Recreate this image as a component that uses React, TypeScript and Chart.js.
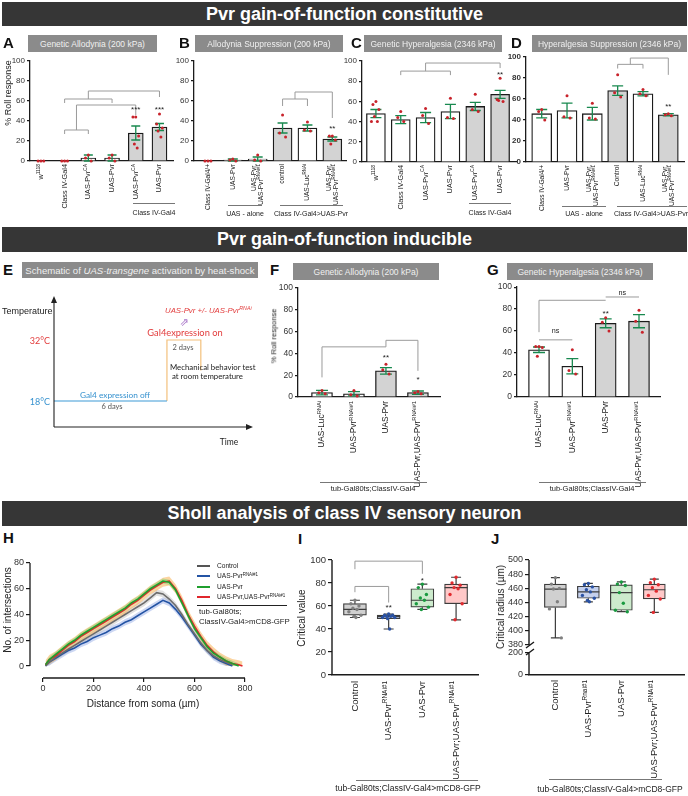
import React, { useEffect, useRef } from "react";
import { Chart, registerables } from "chart.js";

Chart.register(...registerables);

const FONT = '"Liberation Sans", Arial, Helvetica, sans-serif';
const SOFT = 'Lato, "Open Sans", "Liberation Sans", sans-serif';
Chart.defaults.font.family = FONT;
Chart.defaults.color = "#222";

// ================= DATA =================
// Panel A – Genetic Allodynia (200 kPa)
const labelsA = ["w^{1118}", "Class IV-Gal4", "UAS-Pvr^{CA}", "UAS-Pvr", "UAS-Pvr^{CA}", "UAS-Pvr"];
const meansA = [0, 0, 3, 3, 28, 34];
const semA = [0, 0, 3, 3, 7, 3.5];
const pointsA = [[0, 0, 0], [0, 0, 0], [6, 3, 0], [6, 3, 0], [44, 44, 25, 17, 13], [47, 37, 33, 30, 24]];
const sigA = [{ i: 4, t: "***", v: 53 }, { i: 5, t: "***", v: 53 }];
const bracketsA = [
  [[1, 27], [1, 31], [2, 31], [2, 27]],
  [[1.5, 31], [1.5, 56], [4, 56], [4, 46]],
  [[1, 58], [1, 62], [3, 62], [3, 58]],
  [[2, 62], [2, 70], [5, 70], [5, 64]],
];

// Panel B – Allodynia Suppression (200 kPa)
const labelsB = ["Class IV-Gal4/+", "UAS-Pvr", "UAS-Pvr,\nUAS-Pvr^{RNAi#1}", "control", "UAS-Luc^{RNAi}", "UAS-Pvr,\nUAS-Pvr^{RNAi#1}"];
const meansB = [0, 1, 2, 33, 33, 22];
const semB = [0, 1, 2, 5, 3, 2];
const pointsB = [[0, 0, 0], [2, 1, 0], [6, 1, 0], [46, 28, 24], [39, 31, 30], [25, 25, 21, 17]];
const sigB = [{ i: 5, t: "**", v: 34 }];
const bracketsB = [
  [[3, 55], [3, 62], [4, 62], [4, 55]],
  [[3.5, 62], [3.5, 69], [5, 69], [5, 43]],
];

// Panel C – Genetic Hyperalgesia (2346 kPa)
const labelsC = ["w^{1118}", "Class IV-Gal4", "UAS-Pvr^{CA}", "UAS-Pvr", "UAS-Pvr^{CA}", "UAS-Pvr"];
const meansC = [48, 42, 44, 50, 55, 67];
const semC = [4, 4, 5, 7, 4, 4];
const pointsC = [[60, 57, 52, 45, 40, 40], [50, 44, 40], [53, 46, 38], [63, 44, 43], [67, 52, 50], [83, 62, 60, 61]];
const sigC = [{ i: 5, t: "**", v: 89 }];
const bracketsC = [
  [[1, 86], [1, 90], [3, 90], [3, 86]],
  [[2, 90], [2, 98], [5, 98], [5, 93]],
];

// Panel D – Hyperalgesia Suppression (2346 kPa)
const labelsD = ["Class IV-Gal4/+", "UAS-Pvr", "UAS-Pvr,\nUAS-Pvr^{RNAi#1}", "Control", "UAS-Luc^{RNAi}", "UAS-Pvr,\nUAS-Pvr^{RNAi#1}"];
const meansD = [46, 49, 46, 68, 65, 45];
const semD = [4, 7, 6, 4.5, 2, 1];
const pointsD = [[50, 48, 40], [63, 43, 42], [56, 42, 41], [83, 66, 62], [69, 65, 63], [46, 45, 44]];
const sigD = [{ i: 5, t: "**", v: 55 }];
const bracketsD = [
  [[3, 89], [3, 93], [4, 93], [4, 89]],
  [[3.5, 93], [3.5, 99], [5, 99], [5, 83]],
];

// Panel E – schematic (temperature vs. time, not to scale)
const offDays = [0, 6];
const offTemp = [18, 18];
const onDays = [6, 6, 7.8, 7.8];
const onTemp = [18, 32, 32, 25];

// Panel F – inducible allodynia
const labelsF = ["UAS-Luc^{RNAi}", "UAS-Pvr^{RNAi#1}", "UAS-Pvr", "UAS-Pvr,UAS-Pvr^{RNAi#1}"];
const meansF = [4, 3, 24, 4];
const semF = [2, 2, 3, 1.5];
const pointsF = [[6, 4, 3], [6, 2, 1], [30, 25, 21], [5, 4, 3]];
const sigF = [{ i: 2, t: "**", v: 38 }, { i: 3, t: "*", v: 18 }];
const bracketsF = [[[0, 18], [0, 46], [2, 46], [2, 52], [3, 52], [3, 24]]];

// Panel G – inducible hyperalgesia
const labelsG = ["UAS-Luc^{RNAi}", "UAS-Pvr^{RNAi#1}", "UAS-Pvr", "UAS-Pvr,UAS-Pvr^{RNAi#1}"];
const meansG = [43, 28, 67, 69];
const semG = [2.5, 7, 4, 6];
const pointsG = [[46, 46, 45, 37], [43, 24, 21], [72, 68, 60], [79, 69, 59]];
const sigG = [{ i: 2, t: "**", v: 78 }, { i: 2.5, t: "ns", v: 95 }, { i: 0.5, t: "ns", v: 60 }];
const bracketsG = [
  [[0, 59], [0, 88], [2, 88]],
  [[2, 91], [3, 91]],
  [[0, 52], [1, 52]],
];

// Panel H – Sholl analysis
const distH = [10, 25, 50, 75, 100, 125, 150, 175, 200, 225, 250, 275, 300, 325, 350, 375, 400, 425, 450, 475, 500, 525, 550, 575, 600, 625, 650, 675, 700, 725, 750, 775, 790];
const controlH = [0, 3, 7, 10, 13, 16, 19, 22, 25, 28, 31, 34, 37, 40, 43, 46, 49, 53, 57, 56, 52, 47, 40, 32, 25, 18, 12, 8, 5, 3, 1, null, null];
const rnaiH = [0, 3, 6, 9, 12, 14, 17, 19, 22, 24, 26, 29, 31, 34, 36, 39, 42, 45, 48, 51, 49, 44, 38, 31, 24, 17, 12, 7, 4, 2, 0, null, null];
const pvrH = [1, 5, 9, 13, 17, 20, 24, 27, 30, 33, 36, 39, 42, 45, 49, 52, 56, 60, 63, 66, 65, 59, 49, 39, 29, 22, 15, 10, 7, 4, 2, 0, null];
const pvrRnaiH = [1, 5, 8, 12, 16, 19, 23, 26, 29, 32, 35, 38, 41, 44, 48, 51, 55, 59, 62, 65, 66, 60, 51, 40, 31, 23, 16, 11, 7, 4, 2, 1, 0];
const semControlH = 2.5;
const semRnaiH = 2.5;
const semPvrH = 2;
const semPvrRnaiH = 3.5;

// Panel I – Critical value (box plots)
const labelsI = ["Control", "UAS-Pvr^{RNAi#1}", "UAS-Pvr", "UAS-Pvr;UAS-Pvr^{RNAi#1}"];
const minI = [50, 40, 57, 48];
const q1I = [52, 49, 59, 62];
const medI = [57, 51, 65, 76];
const q3I = [62, 52, 75, 79];
const maxI = [65, 53, 79, 85];
const pointsI = [[65, 62, 60, 58, 57, 55, 52, 51, 50], [53, 52, 52, 51, 51, 50, 50, 49, 40], [79, 76, 70, 67, 65, 62, 59, 57], [85, 80, 78, 76, 75, 70, 62, 48]];
const sigI = [{ i: 1, t: "**", v: 60 }, { i: 2, t: "*", v: 84 }];
const bracketsI = [
  [[0, 72], [0, 77], [1, 77], [1, 63]],
  [[0, 92], [0, 99], [2, 99], [2, 88]],
];

// Panel J – Critical radius (box plots, broken axis)
const labelsJ = ["Control", "UAS-Pvr^{Rnai#1}", "UAS-Pvr", "UAS-Pvr;UAS-Pvr^{RNAi#1}"];
const minJ = [390, 441, 427, 426];
const q1J = [433, 446, 429, 445];
const medJ = [459, 455, 454, 458];
const q3J = [466, 463, 465, 466];
const maxJ = [475, 467, 469, 473];
const pointsJ = [[475, 466, 460, 459, 441, 431, 390], [467, 465, 462, 458, 455, 450, 446, 443, 441], [469, 466, 464, 454, 439, 429, 427], [473, 468, 465, 461, 456, 450, 445, 426]];

// ================= STYLE =================
const W = "#ffffff";
const GY = "#d3d3d3";
const INK = "#1b1b1b";
const DOT = "#c8232b";
const ERR = "#18894f";
const BRK = "#9b9b9b";
const JIT = [0, -1, 1, -0.5, 0.5, -1.5, 1.5, -0.25, 0.25];
const BOX_FILL = ["#d0d0d0", "#c5d1ee", "#cdebcd", "#ffc8c8"];
const BOX_DOT = ["#808080", "#2a52a3", "#1a9a40", "#e22a2f"];

// ================= HELPERS =================
function parseRich(s: string) {
  const out: { t: string; sup: boolean }[] = [];
  const re = /\^\{([^}]*)\}/g;
  let last = 0;
  let m: RegExpExecArray | null;
  while ((m = re.exec(s))) {
    if (m.index > last) out.push({ t: s.slice(last, m.index), sup: false });
    out.push({ t: m[1], sup: true });
    last = re.lastIndex;
  }
  if (last < s.length) out.push({ t: s.slice(last), sup: false });
  return out;
}

function drawRich(ctx: any, s: string, x: number, y: number, size: number, align: string, color: string, weight = "normal") {
  const parts = parseRich(s);
  const sup = size * 0.68;
  const f = (sz: number) => `${weight} ${sz}px ${FONT}`;
  const ws = parts.map((p) => {
    ctx.font = f(p.sup ? sup : size);
    return ctx.measureText(p.t).width;
  });
  const total = ws.reduce((a, b) => a + b, 0);
  let cx = align === "right" ? x - total : align === "center" ? x - total / 2 : x;
  ctx.fillStyle = color;
  ctx.textAlign = "left";
  ctx.textBaseline = "middle";
  parts.forEach((p, i) => {
    ctx.font = f(p.sup ? sup : size);
    ctx.fillText(p.t, cx, p.sup ? y - size * 0.36 : y);
    cx += ws[i];
  });
}

function drawXLabels(chart: any, labels: string[], size: number, gap: number, lineH: number) {
  const { ctx } = chart;
  const xs = chart.scales.x;
  const y0 = chart.chartArea.bottom + gap;
  labels.forEach((lab, i) => {
    const x = xs.getPixelForValue(i);
    const lines = lab.split("\n");
    ctx.save();
    ctx.translate(x, y0);
    ctx.rotate(-Math.PI / 2);
    lines.forEach((ln, j) => drawRich(ctx, ln, 0, (j - (lines.length - 1) / 2) * lineH, size, "right", "#222"));
    ctx.restore();
  });
}

function drawBrackets(chart: any, brackets: number[][][], yId = "y") {
  const { ctx } = chart;
  const xs = chart.scales.x;
  const ys = chart.scales[yId];
  ctx.save();
  ctx.strokeStyle = BRK;
  ctx.lineWidth = 1;
  brackets.forEach((b) => {
    ctx.beginPath();
    b.forEach(([x, v], k) => {
      const px = xs.getPixelForValue(x);
      const py = ys.getPixelForValue(v);
      if (k) ctx.lineTo(px, py);
      else ctx.moveTo(px, py);
    });
    ctx.stroke();
  });
  ctx.restore();
}

function drawSigs(chart: any, sigs: { i: number; t: string; v: number }[], size: number, yId = "y") {
  const { ctx } = chart;
  const xs = chart.scales.x;
  const ys = chart.scales[yId];
  ctx.save();
  sigs.forEach((s) => {
    const star = s.t.includes("*");
    drawRich(ctx, s.t, xs.getPixelForValue(s.i), ys.getPixelForValue(s.v) + (star ? size * 0.28 : 0), star ? size : size * 0.9, "center", "#222");
  });
  ctx.restore();
}

const base = (pad: any) => ({
  responsive: false,
  maintainAspectRatio: false,
  animation: false,
  devicePixelRatio: 1,
  events: [],
  layout: { padding: pad },
  plugins: { legend: { display: false }, tooltip: { enabled: false } },
});

function barConfig(p: any) {
  const g = p.g;
  const pts: any[] = [];
  p.points.forEach((arr: number[], i: number) => arr.forEach((v, k) => pts.push({ x: i + JIT[k % JIT.length] * p.jit, y: v })));
  return {
    type: "bar",
    data: {
      datasets: [
        { type: "bar", data: p.means.map((m: number, i: number) => ({ x: i, y: m })), backgroundColor: p.fills, borderColor: INK, borderWidth: 1.3, barThickness: p.bar, order: 1 },
        { type: "scatter", data: pts, pointRadius: 1.5, pointBackgroundColor: DOT, pointBorderWidth: 0, order: 0, clip: false },
      ],
    },
    options: {
      ...base({ top: g.y100 - g.T, right: g.L + g.W - g.xEnd, left: 0, bottom: 0 }),
      scales: {
        x: { type: "linear", min: p.xMin, max: p.xMax, offset: false, ticks: { display: false }, grid: { display: false }, border: { display: true, color: INK, width: 1.3 }, afterFit: (s: any) => { s.height = g.B - g.y0; } },
        y: {
          type: "linear", min: 0, max: 100,
          ticks: { stepSize: 20, autoSkip: false, font: { size: p.tick, weight: p.tickBold ? "bold" : "normal" }, color: "#333", padding: 2 },
          grid: { drawOnChartArea: false, drawTicks: true, tickLength: 3, color: INK, lineWidth: 1.2 },
          border: { display: true, color: INK, width: 1.3 },
          afterFit: (s: any) => { s.width = g.axisX - g.L; },
        },
      },
    },
    plugins: [
      {
        id: "barExtras",
        afterDatasetDraw(chart: any, args: any) {
          if (args.index !== 0) return;
          const { ctx } = chart;
          const xs = chart.scales.x;
          const ys = chart.scales.y;
          ctx.save();
          ctx.strokeStyle = ERR;
          ctx.lineWidth = 1.3;
          p.means.forEach((m: number, i: number) => {
            const s = p.sems[i];
            if (!s) return;
            const x = xs.getPixelForValue(i);
            const y1 = ys.getPixelForValue(m + s);
            const y2 = ys.getPixelForValue(Math.max(0, m - s));
            const c = p.cap / 2;
            ctx.beginPath();
            ctx.moveTo(x, y1); ctx.lineTo(x, y2);
            ctx.moveTo(x - c, y1); ctx.lineTo(x + c, y1);
            ctx.moveTo(x - c, y2); ctx.lineTo(x + c, y2);
            ctx.stroke();
          });
          ctx.restore();
        },
        afterDraw(chart: any) {
          drawBrackets(chart, p.brackets);
          drawSigs(chart, p.sigs, p.sigSize);
          drawXLabels(chart, p.labels, p.labelSize, p.labelGap, p.labelSize * 1.05);
        },
      },
    ],
  };
}

function boxConfig(p: any) {
  const g = p.g;
  const pts: any[] = [];
  const cols: string[] = [];
  p.points.forEach((arr: number[], i: number) => arr.forEach((v, k) => { pts.push({ x: i + JIT[k % JIT.length] * p.jit, y: v }); cols.push(BOX_DOT[i]); }));
  const yId = p.yId;
  const mkY = (extraTicks: any, rest: any) => ({
    type: "linear",
    position: "left",
    ticks: { display: false, font: { size: p.tick }, padding: 2, autoSkip: false, ...extraTicks },
    grid: { drawOnChartArea: false, drawTicks: true, tickLength: 4, color: INK, lineWidth: 1.2 },
    border: { display: false },
    afterFit: (s: any) => { s.width = g.axisX - g.L; },
    ...rest,
  });
  const scales: any = {
    x: { type: "linear", min: p.xMin, max: p.xMax, offset: false, ticks: { display: false }, grid: { display: false }, border: { display: true, color: INK, width: 1.4 }, afterFit: (s: any) => { s.height = g.B - g.y0; } },
  };
  if (p.broken) {
    scales.yBot = mkY({}, { stack: "j", stackWeight: 30, min: 0, max: 272.7, afterBuildTicks: (s: any) => { s.ticks = [{ value: 0 }, { value: 200 }]; } });
    scales.yTop = mkY({ stepSize: 20 }, { stack: "j", stackWeight: 85, min: 380, max: 500 });
  } else {
    scales.y = mkY({ stepSize: 20 }, { min: 0, max: 100 });
  }
  return {
    type: "bar",
    data: {
      datasets: [
        { type: "bar", yAxisID: yId, data: p.q1.map((q: number, i: number) => ({ x: i, y: [q, p.q3[i]] })), backgroundColor: BOX_FILL, borderColor: "#3d3d3d", borderWidth: 1.2, borderSkipped: false, barThickness: p.box, order: 1 },
        { type: "scatter", yAxisID: yId, data: pts, pointRadius: 1.7, pointBackgroundColor: cols, pointBorderWidth: 0, order: 0, clip: false },
      ],
    },
    options: { ...base({ top: g.y100 - g.T, right: g.L + g.W - g.xEnd, left: 0, bottom: 0 }), scales },
    plugins: [
      {
        id: "boxExtras",
        afterDatasetDraw(chart: any, args: any) {
          if (args.index !== 0) return;
          const { ctx } = chart;
          const xs = chart.scales.x;
          const ys = chart.scales[yId];
          ctx.save();
          ctx.strokeStyle = "#3d3d3d";
          ctx.lineWidth = 1.2;
          p.q1.forEach((q: number, i: number) => {
            const x = xs.getPixelForValue(i);
            const c = p.cap / 2;
            const h = p.box / 2;
            const yMin = ys.getPixelForValue(p.min[i]);
            const yMax = ys.getPixelForValue(p.max[i]);
            ctx.beginPath();
            ctx.moveTo(x, ys.getPixelForValue(p.q3[i])); ctx.lineTo(x, yMax);
            ctx.moveTo(x - c, yMax); ctx.lineTo(x + c, yMax);
            ctx.moveTo(x, ys.getPixelForValue(q)); ctx.lineTo(x, yMin);
            ctx.moveTo(x - c, yMin); ctx.lineTo(x + c, yMin);
            ctx.moveTo(x - h, ys.getPixelForValue(p.med[i])); ctx.lineTo(x + h, ys.getPixelForValue(p.med[i]));
            ctx.stroke();
          });
          ctx.restore();
        },
        afterDraw(chart: any) {
          const { ctx, chartArea } = chart;
          const L = chartArea.left;
          // y tick labels from the scales' own ticks
          const yScales = p.broken ? [chart.scales.yBot, chart.scales.yTop] : [chart.scales.y];
          ctx.save();
          ctx.fillStyle = "#333";
          ctx.font = `normal ${p.tick}px ${FONT}`;
          ctx.textAlign = "right";
          ctx.textBaseline = "middle";
          yScales.forEach((s: any) => s.ticks.forEach((t: any) => ctx.fillText(String(t.value), L - 6, s.getPixelForValue(t.value))));
          ctx.restore();
          ctx.save();
          ctx.strokeStyle = INK;
          ctx.lineWidth = 1.4;
          if (p.broken) {
            const yb = chart.scales.yBot;
            const yt = chart.scales.yTop;
            const b0 = yb.getPixelForValue(0), b1 = yb.getPixelForValue(200);
            const t0 = yt.getPixelForValue(380), t1 = yt.getPixelForValue(500);
            ctx.beginPath();
            ctx.moveTo(L, b0); ctx.lineTo(L, b1);
            ctx.moveTo(L, t0); ctx.lineTo(L, t1);
            ctx.moveTo(L - 3, b1 + 2); ctx.lineTo(L + 5, b1 - 4);
            ctx.moveTo(L - 3, t0 + 3); ctx.lineTo(L + 5, t0 - 3);
            ctx.stroke();
          } else {
            const ys = chart.scales.y;
            ctx.beginPath();
            ctx.moveTo(L, ys.getPixelForValue(0)); ctx.lineTo(L, ys.getPixelForValue(100));
            ctx.stroke();
          }
          ctx.restore();
          if (p.brackets) drawBrackets(chart, p.brackets, yId);
          if (p.sigs) drawSigs(chart, p.sigs, p.sigSize, yId);
          drawXLabels(chart, p.labels, p.labelSize, p.labelGap, p.labelSize * 1.05);
        },
      },
    ],
  };
}

function shollConfig() {
  const series = [
    { vals: pvrH, sem: semPvrH, line: "#1f9f2e", band: "rgba(120,210,110,0.45)" },
    { vals: pvrRnaiH, sem: semPvrRnaiH, line: "#e0262c", band: "rgba(248,176,84,0.55)" },
    { vals: controlH, sem: semControlH, line: "#6c6c6c", band: "rgba(170,170,170,0.35)" },
    { vals: rnaiH, sem: semRnaiH, line: "#2454a4", band: "rgba(110,140,220,0.35)" },
  ];
  const toPts = (arr: (number | null)[]) => arr.map((v, i) => ({ x: distH[i], y: v }));
  const datasets: any[] = [];
  series.forEach((s, k) => {
    datasets.push({ type: "line", data: toPts(s.vals), borderColor: s.line, borderWidth: 1.6, pointRadius: 0, tension: 0, fill: false, order: k });
  });
  series.forEach((s, k) => {
    datasets.push({ type: "line", data: toPts(s.vals.map((v) => (v == null ? null : v + s.sem))), borderWidth: 0, pointRadius: 0, fill: false, order: 10 + k });
    datasets.push({ type: "line", data: toPts(s.vals.map((v) => (v == null ? null : Math.max(0, v - s.sem)))), borderWidth: 0, pointRadius: 0, fill: "-1", backgroundColor: s.band, order: 10 + k });
  });
  const gT = 550, y80 = 563, xAxisY = 678, B = 715, axisX = 30, xEnd = 245, Wd = 300;
  return {
    type: "line",
    data: { datasets },
    options: {
      ...base({ top: y80 - gT, right: Wd - xEnd, left: 0, bottom: 0 }),
      scales: {
        x: {
          type: "linear", min: -51.5, max: 800,
          afterBuildTicks: (s: any) => { s.ticks = [0, 200, 400, 600, 800].map((v) => ({ value: v })); },
          ticks: { font: { size: 9 }, color: "#333", padding: 1, maxRotation: 0, autoSkip: false },
          grid: { drawOnChartArea: false, drawTicks: true, tickLength: 4, color: INK, lineWidth: 1.2 },
          border: { display: false },
          afterFit: (s: any) => { s.height = B - xAxisY; },
        },
        y: {
          type: "linear", min: -9.3, max: 80,
          afterBuildTicks: (s: any) => { s.ticks = [0, 20, 40, 60, 80].map((v) => ({ value: v })); },
          ticks: { font: { size: 9 }, color: "#333", padding: 2, autoSkip: false },
          grid: { drawOnChartArea: false, drawTicks: true, tickLength: 4, color: INK, lineWidth: 1.2 },
          border: { display: false },
          afterFit: (s: any) => { s.width = axisX; },
        },
      },
    },
    plugins: [
      {
        id: "shollAxes",
        afterDraw(chart: any) {
          const { ctx, chartArea } = chart;
          const xs = chart.scales.x, ys = chart.scales.y;
          ctx.save();
          ctx.strokeStyle = INK;
          ctx.lineWidth = 1.3;
          ctx.beginPath();
          ctx.moveTo(chartArea.left, ys.getPixelForValue(0)); ctx.lineTo(chartArea.left, ys.getPixelForValue(80));
          ctx.moveTo(xs.getPixelForValue(0), chartArea.bottom); ctx.lineTo(xs.getPixelForValue(800), chartArea.bottom);
          ctx.stroke();
          ctx.restore();
        },
      },
    ],
  };
}

function schematicConfig() {
  return {
    type: "line",
    data: {
      datasets: [
        { data: offDays.map((d, i) => ({ x: d, y: offTemp[i] })), borderColor: "#3d9ad6", borderWidth: 1.2, pointRadius: 0, tension: 0 },
        { data: onDays.map((d, i) => ({ x: d, y: onTemp[i] })), borderColor: "#f3c07c", borderWidth: 1.2, pointRadius: 0, tension: 0 },
      ],
    },
    options: {
      ...base({ left: 54, top: 13, right: 16, bottom: 13 }),
      scales: {
        x: { type: "linear", display: false, min: 0, max: 10.2 },
        y: { type: "linear", display: false, min: 12.03, max: 40.49 },
      },
    },
    plugins: [
      {
        id: "arrows",
        afterDraw(chart: any) {
          const { ctx, chartArea: a } = chart;
          ctx.save();
          ctx.strokeStyle = "#222";
          ctx.fillStyle = "#222";
          ctx.lineWidth = 1.1;
          ctx.beginPath();
          ctx.moveTo(a.left, a.bottom); ctx.lineTo(a.left, a.top - 1);
          ctx.moveTo(a.left, a.bottom); ctx.lineTo(a.right + 1, a.bottom);
          ctx.stroke();
          ctx.beginPath();
          ctx.moveTo(a.left - 3, a.top); ctx.lineTo(a.left + 3, a.top); ctx.lineTo(a.left, a.top - 7); ctx.closePath();
          ctx.moveTo(a.right, a.bottom - 3); ctx.lineTo(a.right, a.bottom + 3); ctx.lineTo(a.right + 7, a.bottom); ctx.closePath();
          ctx.fill();
          ctx.restore();
        },
      },
    ],
  };
}

// ================= COMPONENTS =================
function ChartBox(props: { x: number; y: number; w: number; h: number; make: () => any }) {
  const ref = useRef<HTMLCanvasElement | null>(null);
  useEffect(() => {
    const c = new Chart(ref.current as HTMLCanvasElement, props.make());
    return () => c.destroy();
  }, []);
  return <canvas ref={ref} width={props.w} height={props.h} style={{ position: "absolute", left: props.x, top: props.y, width: props.w, height: props.h }} />;
}

function Rich({ s }: { s: string }) {
  return (
    <>
      {parseRich(s).map((p, i) =>
        p.sup ? (
          <span key={i} style={{ fontSize: "0.68em", position: "relative", top: "-0.55em" }}>{p.t}</span>
        ) : (
          <span key={i}>{p.t}</span>
        )
      )}
    </>
  );
}

function Txt(props: any) {
  const { x, y, size, align = "center", color = "#222", bold, italic, family = FONT, rot, children } = props;
  const tx = align === "center" ? "-50%" : align === "right" ? "-100%" : "0";
  return (
    <div
      style={{
        position: "absolute", left: x, top: y, fontSize: size, lineHeight: 1, whiteSpace: "nowrap", color,
        fontWeight: bold ? "bold" : "normal", fontStyle: italic ? "italic" : "normal", fontFamily: family,
        transform: rot ? "translate(-50%,-50%) rotate(-90deg)" : `translate(${tx},-50%)`,
        pointerEvents: "none",
      }}
    >
      {children}
    </div>
  );
}

function Header({ y, h, text }: { y: number; h: number; text: string }) {
  return (
    <div style={{ position: "absolute", left: 2, top: y, width: 685, height: h, background: "#363636", color: "#fff", fontWeight: "bold", fontSize: 18, lineHeight: `${h}px`, textAlign: "center", fontFamily: FONT }}>
      {text}
    </div>
  );
}

function Letter({ x, y, c }: { x: number; y: number; c: string }) {
  return <div style={{ position: "absolute", left: x, top: y, fontSize: 15, lineHeight: 1, fontWeight: "bold", fontFamily: FONT, color: "#111" }}>{c}</div>;
}

function TitleBox({ x, y, w, h, size = 8.5, children }: any) {
  return (
    <div style={{ position: "absolute", left: x, top: y, width: w, height: h, background: "#8b8b8b", color: "#f0f0f0", fontSize: size, fontFamily: FONT, display: "flex", alignItems: "center", justifyContent: "center", whiteSpace: "nowrap" }}>
      {children}
    </div>
  );
}

function Group({ x1, x2, y, cx, cy, size, text }: any) {
  return (
    <>
      <div style={{ position: "absolute", left: x1, top: y, width: x2 - x1, height: 0, borderTop: "1px solid #777" }} />
      <Txt x={cx} y={cy} size={size} color="#222">{text}</Txt>
    </>
  );
}

// ================= APP =================
export default function App() {
  const makeA = () => barConfig({ labels: labelsA, means: meansA, sems: semA, points: pointsA, fills: [W, W, W, W, GY, GY], brackets: bracketsA, sigs: sigA, xMin: -0.46, xMax: 5.57, bar: 15, cap: 9, jit: 0.12, tick: 8, labelSize: 7.3, labelGap: 3, sigSize: 8, g: { L: 0, T: 50, W: 178, B: 222, axisX: 30, y100: 61, y0: 161, xEnd: 173 } });
  const makeB = () => barConfig({ labels: labelsB, means: meansB, sems: semB, points: pointsB, fills: [W, W, W, GY, W, GY], brackets: bracketsB, sigs: sigB, xMin: -0.56, xMax: 5.55, bar: 19, cap: 10, jit: 0.12, tick: 8, labelSize: 6.6, labelGap: 3, sigSize: 8, g: { L: 174, T: 50, W: 176, B: 222, axisX: 194, y100: 61, y0: 161, xEnd: 346 } });
  const makeC = () => barConfig({ labels: labelsC, means: meansC, sems: semC, points: pointsC, fills: [W, W, W, W, GY, GY], brackets: bracketsC, sigs: sigC, xMin: -0.56, xMax: 5.64, bar: 19, cap: 11, jit: 0.12, tick: 8, labelSize: 7.3, labelGap: 3, sigSize: 8, g: { L: 344, T: 50, W: 176, B: 222, axisX: 362, y100: 61, y0: 162, xEnd: 517 } });
  const makeD = () => barConfig({ labels: labelsD, means: meansD, sems: semD, points: pointsD, fills: [W, W, W, GY, W, GY], brackets: bracketsD, sigs: sigD, xMin: -0.62, xMax: 5.62, bar: 20, cap: 11, jit: 0.12, tick: 8, tickBold: true, labelSize: 6.6, labelGap: 3, sigSize: 8, g: { L: 508, T: 46, W: 180, B: 222, axisX: 526, y100: 57, y0: 162, xEnd: 687 } });
  const makeF = () => barConfig({ labels: labelsF, means: meansF, sems: semF, points: pointsF, fills: [W, W, GY, GY], brackets: bracketsF, sigs: sigF, xMin: -0.75, xMax: 3.69, bar: 21, cap: 12, jit: 0.1, tick: 8.5, labelSize: 8.4, labelGap: 4, sigSize: 8, g: { L: 270, T: 280, W: 175, B: 490, axisX: 298, y100: 288, y0: 397, xEnd: 440 } });
  const makeG = () => barConfig({ labels: labelsG, means: meansG, sems: semG, points: pointsG, fills: [W, W, GY, GY], brackets: bracketsG, sigs: sigG, xMin: -0.66, xMax: 3.63, bar: 21, cap: 12, jit: 0.1, tick: 8.5, labelSize: 8.4, labelGap: 4, sigSize: 8, g: { L: 490, T: 280, W: 175, B: 490, axisX: 517, y100: 287, y0: 397, xEnd: 660 } });
  const makeI = () => boxConfig({ labels: labelsI, min: minI, q1: q1I, med: medI, q3: q3I, max: maxI, points: pointsI, brackets: bracketsI, sigs: sigI, yId: "y", broken: false, xMin: -0.68, xMax: 3.65, box: 23, cap: 10, jit: 0.12, tick: 9.5, labelSize: 9.5, labelGap: 6, sigSize: 8, g: { L: 300, T: 550, W: 182, B: 785, axisX: 332, y100: 560, y0: 675, xEnd: 479 } });
  const makeJ = () => boxConfig({ labels: labelsJ, min: minJ, q1: q1J, med: medJ, q3: q3J, max: maxJ, points: pointsJ, yId: "yTop", broken: true, xMin: -0.8, xMax: 3.9, box: 22, cap: 9, jit: 0.12, tick: 9, labelSize: 9.5, labelGap: 5, sigSize: 8, g: { L: 498, T: 550, W: 190, B: 785, axisX: 529, y100: 560, y0: 675, xEnd: 687 } });

  const red = "#e23b3b";
  const blue = "#3792cf";

  return (
    <div style={{ position: "absolute", left: 0, top: 0, width: 688, height: 796, background: "#fff", fontFamily: FONT, overflow: "hidden" }}>
      <ChartBox x={0} y={50} w={178} h={172} make={makeA} />
      <ChartBox x={174} y={50} w={176} h={172} make={makeB} />
      <ChartBox x={344} y={50} w={176} h={172} make={makeC} />
      <ChartBox x={508} y={46} w={180} h={176} make={makeD} />
      <ChartBox x={0} y={290} w={262} h={150} make={schematicConfig} />
      <ChartBox x={270} y={280} w={175} h={210} make={makeF} />
      <ChartBox x={490} y={280} w={175} h={210} make={makeG} />
      <ChartBox x={0} y={550} w={300} h={165} make={shollConfig} />
      <ChartBox x={300} y={550} w={182} h={235} make={makeI} />
      <ChartBox x={498} y={550} w={190} h={235} make={makeJ} />

      {/* Section headers */}
      <Header y={2} h={24} text="Pvr gain-of-function constitutive" />
      <Header y={227} h={25} text="Pvr gain-of-function inducible" />
      <Header y={501} h={25} text="Sholl analysis of class IV sensory neuron" />

      {/* Panel letters */}
      <Letter x={3} y={35} c="A" />
      <Letter x={179} y={35} c="B" />
      <Letter x={351} y={35} c="C" />
      <Letter x={511} y={35} c="D" />
      <Letter x={3} y={262} c="E" />
      <Letter x={270} y={262} c="F" />
      <Letter x={487} y={262} c="G" />
      <Letter x={3} y={530} c="H" />
      <Letter x={298} y={531} c="I" />
      <Letter x={491} y={531} c="J" />

      {/* Title boxes */}
      <TitleBox x={28} y={35} w={129} h={17}>Genetic Allodynia (200 kPa)</TitleBox>
      <TitleBox x={195} y={35} w={148} h={17}>Allodynia Suppression (200 kPa)</TitleBox>
      <TitleBox x={364} y={35} w={138} h={17}>Genetic Hyperalgesia (2346 kPa)</TitleBox>
      <TitleBox x={532} y={35} w={155} h={17}>Hyperalgesia Suppression (2346 kPa)</TitleBox>
      <TitleBox x={22} y={262} w={236} h={16} size={9.6}>
        Schematic of&nbsp;<i>UAS-transgene</i>&nbsp;activation by heat-shock
      </TitleBox>
      <TitleBox x={293} y={263} w={146} h={17}>Genetic Allodynia (200 kPa)</TitleBox>
      <TitleBox x={507} y={263} w={146} h={17}>Genetic Hyperalgesia (2346 kPa)</TitleBox>

      {/* Axis titles */}
      <Txt x={8} y={93} size={9} rot>% Roll response</Txt>
      <Txt x={274} y={336} size={7.5} rot>% Roll response</Txt>
      <Txt x={8} y={610} size={10} rot>No. of intersections</Txt>
      <Txt x={143} y={704} size={10}>Distance from soma (µm)</Txt>
      <Txt x={302} y={618} size={10} rot>Critical value</Txt>
      <Txt x={501} y={607} size={10} rot>Critical radius (µm)</Txt>

      {/* Group labels */}
      <Group x1={133} x2={175} y={203} cx={154} cy={212} size={7} text="Class IV-Gal4" />
      <Group x1={228} x2={262} y={205} cx={245} cy={213} size={7} text="UAS - alone" />
      <Group x1={280} x2={343} y={205} cx={311} cy={213} size={7} text="Class IV-Gal4>UAS-Pvr" />
      <Group x1={469} x2={511} y={203} cx={490} cy={212} size={7} text="Class IV-Gal4" />
      <Group x1={562} x2={606} y={206} cx={584} cy={213} size={7} text="UAS - alone" />
      <Group x1={617} x2={687} y={206} cx={651} cy={213} size={7} text="Class IV-Gal4>UAS-Pvr" />
      <Group x1={320} x2={427} y={482} cx={373} cy={489} size={7.5} text="tub-Gal80ts;ClassIV-Gal4" />
      <Group x1={539} x2={646} y={482} cx={592} cy={489} size={7.5} text="tub-Gal80ts;ClassIV-Gal4" />
      <Group x1={356} x2={478} y={780} cx={408} cy={788} size={8.5} text="tub-Gal80ts;ClassIV-Gal4>mCD8-GFP" />
      <Group x1={549} x2={662} y={779} cx={610} cy={789} size={8.5} text="tub-Gal80ts;ClassIV-Gal4>mCD8-GFP" />

      {/* Schematic texts */}
      <Txt x={2} y={311} size={9} align="left">Temperature</Txt>
      <Txt x={50} y={340} size={9} align="right" color={red} family={SOFT}>32°C</Txt>
      <Txt x={50} y={401} size={9} align="right" color={blue} family={SOFT}>18°C</Txt>
      <Txt x={115} y={395} size={8.3} color={blue} family={SOFT}>Gal4 expression off</Txt>
      <Txt x={112} y={407} size={7.5} color="#555" family={SOFT}>6 days</Txt>
      <Txt x={185} y={333} size={9.3} color={red} family={SOFT}>Gal4expression on</Txt>
      <Txt x={183} y={348} size={7.5} color="#555" family={SOFT}>2 days</Txt>
      <Txt x={184} y={322} size={11} color="#a874c8" family='"DejaVu Sans", sans-serif'>⇗</Txt>
      <Txt x={165} y={311} size={7.8} align="left" color={red} italic>
        <Rich s="UAS-Pvr +/- UAS-Pvr^{RNAi}" />
      </Txt>
      <Txt x={170} y={368} size={7.8} align="left" family={SOFT}>Mechanical behavior test</Txt>
      <Txt x={172} y={377} size={7.8} align="left" family={SOFT}>at room temperature</Txt>
      <Txt x={229} y={442} size={8.5} family={SOFT}>Time</Txt>

      {/* Sholl legend */}
      {[
        { c: "#555", t: "Control", y: 566 },
        { c: "#2454a4", t: "UAS-Pvr^{RNAi#1}", y: 576 },
        { c: "#1f9f2e", t: "UAS-Pvr", y: 587 },
        { c: "#e0262c", t: "UAS-Pvr,UAS-Pvr^{RNAi#1}", y: 597 },
      ].map((it, i) => (
        <React.Fragment key={i}>
          <div style={{ position: "absolute", left: 197, top: it.y - 1, width: 13, height: 2, background: it.c }} />
          <Txt x={217} y={it.y} size={6.6} align="left"><Rich s={it.t} /></Txt>
        </React.Fragment>
      ))}
      <div style={{ position: "absolute", left: 197, top: 605, width: 90, height: 0, borderTop: "1px solid #222" }} />
      <Txt x={199} y={612} size={7.8} align="left">tub-Gal80ts;</Txt>
      <Txt x={199} y={622} size={7.8} align="left">ClassIV-Gal4&gt;mCD8-GFP</Txt>
    </div>
  );
}
